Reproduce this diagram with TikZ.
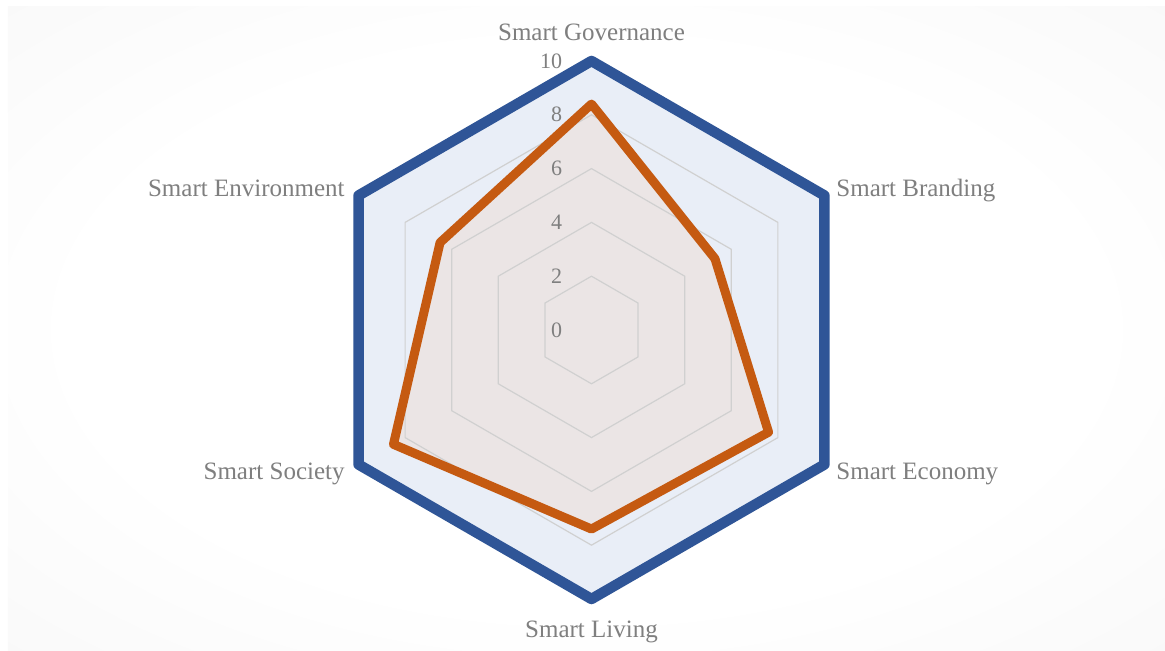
\documentclass[tikz,border=0pt]{standalone}
\usepackage{fontspec}
\setmainfont{Liberation Serif}
\usetikzlibrary{positioning}

\definecolor{seriesblue}{RGB}{47,85,151}
\definecolor{seriesorange}{RGB}{197,90,17}
\definecolor{bluearea}{RGB}{233,238,247}
\definecolor{orangearea}{RGB}{235,229,229}
\definecolor{gridgray}{RGB}{208,208,208}
\definecolor{labelgray}{RGB}{127,127,127}
\definecolor{panelgray}{RGB}{243,243,243}
\pgfdeclareradialshading{panelglow}{\pgfpoint{0bp}{0bp}}{color(0bp)=(white); color(22bp)=(white); color(50bp)=(panelgray); color(72bp)=(panelgray)}

\begin{document}
\begin{tikzpicture}[
        x=0.5pt, y=0.5pt,
        gridline/.style={draw=gridgray, line width=0.6pt},
        axislabel/.style={text=labelgray, font=\fontsize{12.5}{15}\selectfont, inner sep=0pt},
        ticklabel/.style={text=labelgray, font=\fontsize{11}{13}\selectfont, inner sep=0pt, anchor=east},
        series/.style={line width=5pt, line join=round}
    ]
        \useasboundingbox (-591.5,-321) rectangle (573.5,330);
        \shade[shading=panelglow] (-583.5,-321) rectangle (573.5,323);
        % series points
        \foreach \ang/\val [count=\i] in {90/8.4,30/5.3,-30/7.6,-90/7.4,210/8.5,150/6.5}
            \coordinate (o\i) at (\ang:{\val*26.9});
        \foreach \ang [count=\i] in {90,30,-30,-90,210,150}
            \coordinate (b\i) at (\ang:269);
        % areas
        \fill[bluearea] (b1) -- (b2) -- (b3) -- (b4) -- (b5) -- (b6) -- cycle;
        \fill[orangearea] (o1) -- (o2) -- (o3) -- (o4) -- (o5) -- (o6) -- cycle;
        % grid
        \foreach \v in {2,4,...,10}
            \draw[gridline] (90:{\v*26.9}) -- (30:{\v*26.9}) -- (-30:{\v*26.9}) -- (-90:{\v*26.9}) -- (210:{\v*26.9}) -- (150:{\v*26.9}) -- cycle;
        % outlines
        \draw[series, seriesblue, line width=5.25pt] (b1) -- (b2) -- (b3) -- (b4) -- (b5) -- (b6) -- cycle;
        \draw[series, seriesorange, line width=4.5pt] (o1) -- (o2) -- (o3) -- (o4) -- (o5) -- (o6) -- cycle;
        % scale
        \foreach \v in {0,2,...,10}
            \node[ticklabel] (tick\v) at (-29,{\v*26.9}) {\v};
        % axis names
        \node[axislabel, anchor=base] (gov) at (0,289) {Smart Governance};
        \node[axislabel, anchor=base west] (brand) at (244.5,133) {Smart Branding};
        \node[axislabel, anchor=base west] (econ) at (244.5,-150) {Smart Economy};
        \node[axislabel, anchor=base] (living) at (0,-307) {Smart Living};
        \node[axislabel, anchor=base east] (society) at (-246.5,-150) {Smart Society};
        \node[axislabel, anchor=base east] (env) at (-246.5,133) {Smart Environment};
    \end{tikzpicture}
\end{document}
